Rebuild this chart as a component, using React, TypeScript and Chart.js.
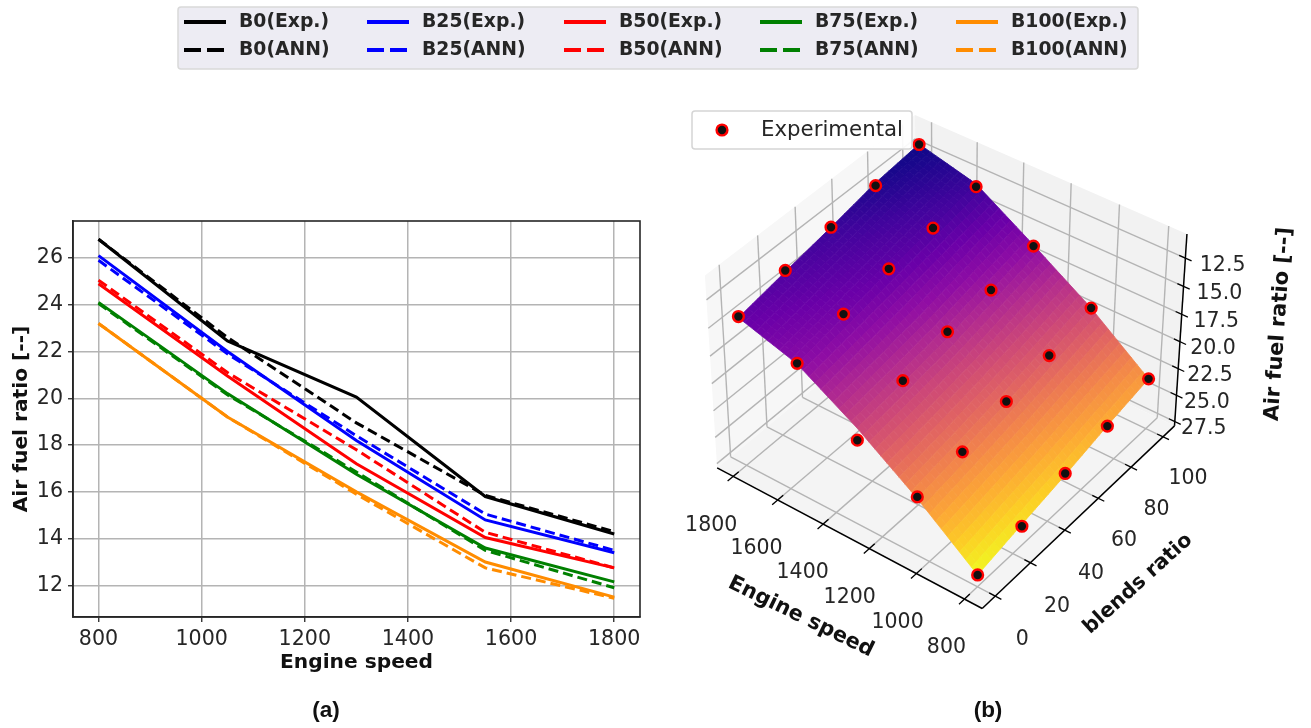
import React, { useEffect, useRef } from "react";
import { Chart, registerables } from "chart.js";
Chart.register(...registerables);

const speeds = [800, 1050, 1300, 1550, 1800];
const blends = [0, 25, 50, 75, 100];
const expB0 = [26.8, 22.45, 20.05, 15.8, 14.2];
const annB0 = [26.8, 22.6, 18.95, 15.85, 14.3];
const expB25 = [26.1, 22.0, 18.2, 14.8, 13.4];
const annB25 = [25.9, 21.9, 18.4, 15.05, 13.5];
const expB50 = [24.9, 20.95, 17.2, 14.05, 12.75];
const annB50 = [25.05, 21.1, 17.8, 14.27, 12.75];
const expB75 = [24.1, 20.2, 16.75, 13.6, 12.15];
const annB75 = [24.05, 20.15, 16.85, 13.5, 11.9];
const expB100 = [23.2, 19.2, 16.0, 13.0, 11.5];
const annB100 = [23.2, 19.2, 15.9, 12.75, 11.45];
const seriesNames = ["B0", "B25", "B50", "B75", "B100"];
const seriesColors = ["#000000", "#0000ff", "#ff0000", "#008000", "#ff8c00"];
const expSeries = [expB0, expB25, expB50, expB75, expB100];
const annSeries = [annB0, annB25, annB50, annB75, annB100];

const speedTicks = [800, 1000, 1200, 1400, 1600, 1800];
const blendTicks = [0, 20, 40, 60, 80, 100];
const afrTicks = [12.5, 15, 17.5, 20, 22.5, 25, 27.5];

// Camera of the 3D panel: maps (speed, blend, air fuel ratio) onto the panel's scales.
const cam = [-194.84401, 238.09944, -43.53301, 977.56147, -99.04269, -132.38181, -185.38127, 582.38468, 0.04864, 0.06079, -0.04618];

function project(s: number, b: number, z: number) {
  const u = (s - 800) / 1000, v = b / 100, w = (27.5 - z) / 15;
  const d = cam[8] * u + cam[9] * v + cam[10] * w + 1;
  return { x: (cam[0] * u + cam[1] * v + cam[2] * w + cam[3]) / d, y: (cam[4] * u + cam[5] * v + cam[6] * w + cam[7]) / d };
}

const plasma = ["#0d0887", "#41049d", "#6a00a8", "#8f0da4", "#b12a90", "#cc4778", "#e16462", "#f2844b", "#fca636", "#fcce25", "#f0f921"];
function cmap(z: number) {
  const t = Math.max(0, Math.min(0.9999, (z - 11.45) / (26.8 - 11.45))) * (plasma.length - 1);
  const i = Math.floor(t), f = t - i;
  const h = (c: string, k: number) => parseInt(c.slice(1 + 2 * k, 3 + 2 * k), 16);
  const c = [0, 1, 2].map(k => Math.round(h(plasma[i], k) * (1 - f) + h(plasma[i + 1], k) * f));
  return `rgb(${c[0]},${c[1]},${c[2]})`;
}

const S0 = 727, S1 = 1873, B0 = -7.3, B1 = 107.3, ZF = 27.915, ZT = 10.385;
const dv = "'DejaVu Sans'";
const TXT = "#262626";

const legendCols = [184, 367, 564, 760, 956];
const legendRows = [22, 50];

const legendPlugin = {
  id: "topLegend",
  afterDraw(chart: any) {
    const c = chart.ctx; c.save();
    const a = chart.chartArea;
    c.strokeStyle = "#262626"; c.lineWidth = 1.6; c.strokeRect(a.left, a.top, a.right - a.left, a.bottom - a.top);
    c.fillStyle = "#edecf3"; c.strokeStyle = "#d9d9d9"; c.lineWidth = 1.5;
    c.beginPath(); c.roundRect(178, 7, 960, 62, 3); c.fill(); c.stroke();
    c.font = `bold 18.8px ${dv}`; c.textBaseline = "middle"; c.fillStyle = TXT;
    chart.data.datasets.forEach((d: any, i: number) => {
      const col = Math.floor(i / 2), row = i % 2;
      c.strokeStyle = d.borderColor; c.lineWidth = 4; c.setLineDash(row ? [17, 6] : []);
      c.beginPath(); c.moveTo(legendCols[col], legendRows[row]); c.lineTo(legendCols[col] + 42, legendRows[row]); c.stroke();
      c.setLineDash([]);
      c.fillText(d.label, legendCols[col] + 55, legendRows[row] + 0.5);
    });
    c.font = "bold 22.5px 'Liberation Sans'"; c.textAlign = "center"; c.fillStyle = "#111";
    c.fillText("(a)", 326, 711); c.fillText("(b)", 988, 711);
    c.restore();
  }
};

const box3dPlugin = {
  id: "box3d",
  beforeDatasetsDraw(chart: any) {
    const c = chart.ctx, sx = chart.scales.x, sy = chart.scales.y;
    const P = (s: number, b: number, z: number) => { const p = project(s, b, z); return [sx.getPixelForValue(p.x), sy.getPixelForValue(p.y)]; };
    const poly = (pts: number[][], fill: string) => { c.beginPath(); pts.forEach((p, i) => i ? c.lineTo(p[0], p[1]) : c.moveTo(p[0], p[1])); c.closePath(); c.fillStyle = fill; c.fill(); };
    const seg = (a: number[], b: number[]) => { c.beginPath(); c.moveTo(a[0], a[1]); c.lineTo(b[0], b[1]); c.stroke(); };
    c.save();
    poly([P(S1, B0, ZF), P(S1, B0, ZT), P(S1, B1, ZT), P(S1, B1, ZF)], "#f7f7f7");
    poly([P(S0, B1, ZF), P(S0, B1, ZT), P(S1, B1, ZT), P(S1, B1, ZF)], "#f2f2f2");
    poly([P(S0, B0, ZF), P(S1, B0, ZF), P(S1, B1, ZF), P(S0, B1, ZF)], "#f4f4f4");
    c.strokeStyle = "#b4b4b4"; c.lineWidth = 1.4;
    speedTicks.forEach(s => { seg(P(s, B0, ZF), P(s, B1, ZF)); seg(P(s, B1, ZF), P(s, B1, ZT)); });
    blendTicks.forEach(b => { seg(P(S0, b, ZF), P(S1, b, ZF)); seg(P(S1, b, ZF), P(S1, b, ZT)); });
    afrTicks.forEach(z => { seg(P(S1, B0, z), P(S1, B1, z)); seg(P(S1, B1, z), P(S0, B1, z)); });
    c.strokeStyle = "#000"; c.lineWidth = 1.5;
    seg(P(S1, B0, ZF), P(S0, B0, ZF)); seg(P(S0, B0, ZF), P(S0, B1, ZF)); seg(P(S0, B1, ZF), P(S0, B1, ZT));
    c.lineWidth = 1.3;
    speedTicks.forEach(s => seg(P(s, B0 - 3, ZF), P(s, B0 + 3, ZF)));
    blendTicks.forEach(b => seg(P(S0 - 25, b, ZF), P(S0 + 25, b, ZF)));
    afrTicks.forEach(z => seg(P(S0 - 25, B1, z), P(S0 + 25, B1, z)));
    c.font = `20.5px ${dv}`; c.fillStyle = TXT; c.textAlign = "center"; c.textBaseline = "middle";
    speedTicks.forEach(s => { const p = P(s, B0, ZF); c.fillText(String(s), p[0] - 20 + (s - 1300) * -0.004, p[1] + 49); });
    blendTicks.forEach(b => { const p = P(S0, b, ZF); c.fillText(String(b), p[0] + 27 - b * 0.02, p[1] + 44 - b * 0.02); });
    afrTicks.forEach(z => { const p = P(S0, B1, z); c.fillText(z.toFixed(1), p[0] + 26 + (27.5 - z) * 0.55 + 3, p[1] + 7); });
    const rot = (t: string, x: number, y: number, a: number) => { c.save(); c.translate(x, y); c.rotate(a * Math.PI / 180); c.fillText(t, 0, 0); c.restore(); };
    c.fillStyle = "#111";
    c.font = `bold 21px ${dv}`; rot("Engine speed", 801, 617, 26); rot("Air fuel ratio [--]", 1279, 324, -86);
    c.font = `bold 20.5px ${dv}`; rot("blends ratio", 1138, 584, -42);
    // surface
    const N = 10;
    const zAt = (i: number, j: number, a: number, b: number) => {
      const z00 = annSeries[j][i], z10 = annSeries[j][i + 1], z01 = annSeries[j + 1][i], z11 = annSeries[j + 1][i + 1];
      return z00 * (1 - a) * (1 - b) + z10 * a * (1 - b) + z01 * (1 - a) * b + z11 * a * b;
    };
    c.lineWidth = 0.8;
    for (let i = speeds.length - 2; i >= 0; i--) for (let j = blends.length - 2; j >= 0; j--) {
      const ds = speeds[i + 1] - speeds[i], db = blends[j + 1] - blends[j];
      for (let p = N - 1; p >= 0; p--) for (let q = N - 1; q >= 0; q--) {
        const a0 = p / N, a1 = (p + 1) / N, b0 = q / N, b1 = (q + 1) / N;
        const pts = [[a0, b0], [a1, b0], [a1, b1], [a0, b1]].map(t => P(speeds[i] + t[0] * ds, blends[j] + t[1] * db, zAt(i, j, t[0], t[1])));
        const col = cmap(zAt(i, j, (a0 + a1) / 2, (b0 + b1) / 2));
        poly(pts, col); c.strokeStyle = col; c.stroke();
      }
    }
    c.restore();
  },
  afterDatasetsDraw(chart: any) {
    const c = chart.ctx; c.save();
    c.fillStyle = "rgba(255,255,255,0.92)"; c.strokeStyle = "#d5d5d5"; c.lineWidth = 1.5;
    c.beginPath(); c.roundRect(692, 111, 220, 38, 3); c.fill(); c.stroke();
    c.beginPath(); c.arc(722, 130, 5.4, 0, Math.PI * 2); c.fillStyle = "#111"; c.fill(); c.strokeStyle = "#ff0000"; c.lineWidth = 2.4; c.stroke();
    c.font = `21.3px ${dv}`; c.fillStyle = TXT; c.textBaseline = "middle"; c.textAlign = "left";
    c.fillText(chart.data.datasets[0].label, 761, 130);
    c.restore();
  }
};

export default function App() {
  const a = useRef<HTMLCanvasElement>(null); const b = useRef<HTMLCanvasElement>(null);
  useEffect(() => {
    const datasets: any[] = [];
    seriesNames.forEach((n, i) => {
      datasets.push({ label: `${n}(Exp.)`, data: speeds.map((s, k) => ({ x: s, y: expSeries[i][k] })), borderColor: seriesColors[i], backgroundColor: seriesColors[i], borderWidth: 3, pointRadius: 0, showLine: true, tension: 0, order: 100 - 2 * i });
      datasets.push({ label: `${n}(ANN)`, data: speeds.map((s, k) => ({ x: s, y: annSeries[i][k] })), borderColor: seriesColors[i], backgroundColor: seriesColors[i], borderWidth: 3, borderDash: [10, 5], pointRadius: 0, showLine: true, tension: 0, order: 99 - 2 * i });
    });
    const ca = new Chart(a.current!, {
      type: "scatter", data: { datasets }, plugins: [legendPlugin], options: {
        responsive: false, animation: false, devicePixelRatio: 1,
        layout: { autoPadding: false, padding: { left: 0, top: 221, right: 671, bottom: 0 } },
        plugins: { legend: { display: false }, tooltip: { enabled: false } },
        scales: {
          x: {
            type: "linear", min: 750.5, max: 1850, afterFit: (s: any) => { s.height = 111; },
            ticks: { stepSize: 200, includeBounds: false, callback: (v: any) => String(v), maxRotation: 0, autoSkip: false, color: TXT, font: { family: "DejaVu Sans", size: 20.6 }, padding: 5 },
            grid: { color: "#b4b4b4", lineWidth: 1.5, tickColor: "#262626", tickLength: 5, tickWidth: 1.3 }, border: { color: "#262626", width: 1.6 },
            title: { display: true, text: "Engine speed", color: "#111", font: { family: "DejaVu Sans", size: 20.2, weight: "bold" }, padding: { top: 0, bottom: 53 } }
          },
          y: {
            type: "linear", min: 10.65, max: 27.58, afterFit: (s: any) => { s.width = 73; },
            ticks: { stepSize: 2, includeBounds: false, callback: (v: any) => String(v), autoSkip: false, color: TXT, font: { family: "DejaVu Sans", size: 20.6 }, padding: 5 },
            grid: { color: "#b4b4b4", lineWidth: 1.5, tickColor: "#262626", tickLength: 5, tickWidth: 1.3 }, border: { color: "#262626", width: 1.6 },
            title: { display: true, text: "Air fuel ratio [--]", color: "#111", font: { family: "DejaVu Sans", size: 20.2, weight: "bold" }, padding: { top: 10, bottom: 0 } }
          }
        }
      }
    } as any);
    const pts: any[] = [];
    speeds.forEach((s, i) => blends.forEach((bl, j) => pts.push(project(s, bl, expSeries[j][i]))));
    const cb = new Chart(b.current!, {
      type: "scatter", data: { datasets: [{ label: "Experimental", data: pts, pointRadius: 5.4, pointBorderWidth: 2.4, pointBackgroundColor: "#111", pointBorderColor: "#ff0000", clip: false }] }, plugins: [box3dPlugin], options: {
        responsive: false, animation: false, devicePixelRatio: 1, layout: { autoPadding: false, padding: 0 },
        plugins: { legend: { display: false }, tooltip: { enabled: false } },
        scales: { x: { type: "linear", min: 0, max: 1311, display: false }, y: { type: "linear", min: 0, max: 728, reverse: true, display: false } }
      }
    } as any);
    return () => { ca.destroy(); cb.destroy(); };
  }, []);
  return <div style={{ position: "absolute", left: 0, top: 0, width: 1311, height: 728, overflow: "hidden" }}>
    <canvas ref={a} width={1311} height={728} style={{ position: "absolute", left: 0, top: 0 }} />
    <canvas ref={b} width={1311} height={728} style={{ position: "absolute", left: 0, top: 0 }} />
  </div>;
}
